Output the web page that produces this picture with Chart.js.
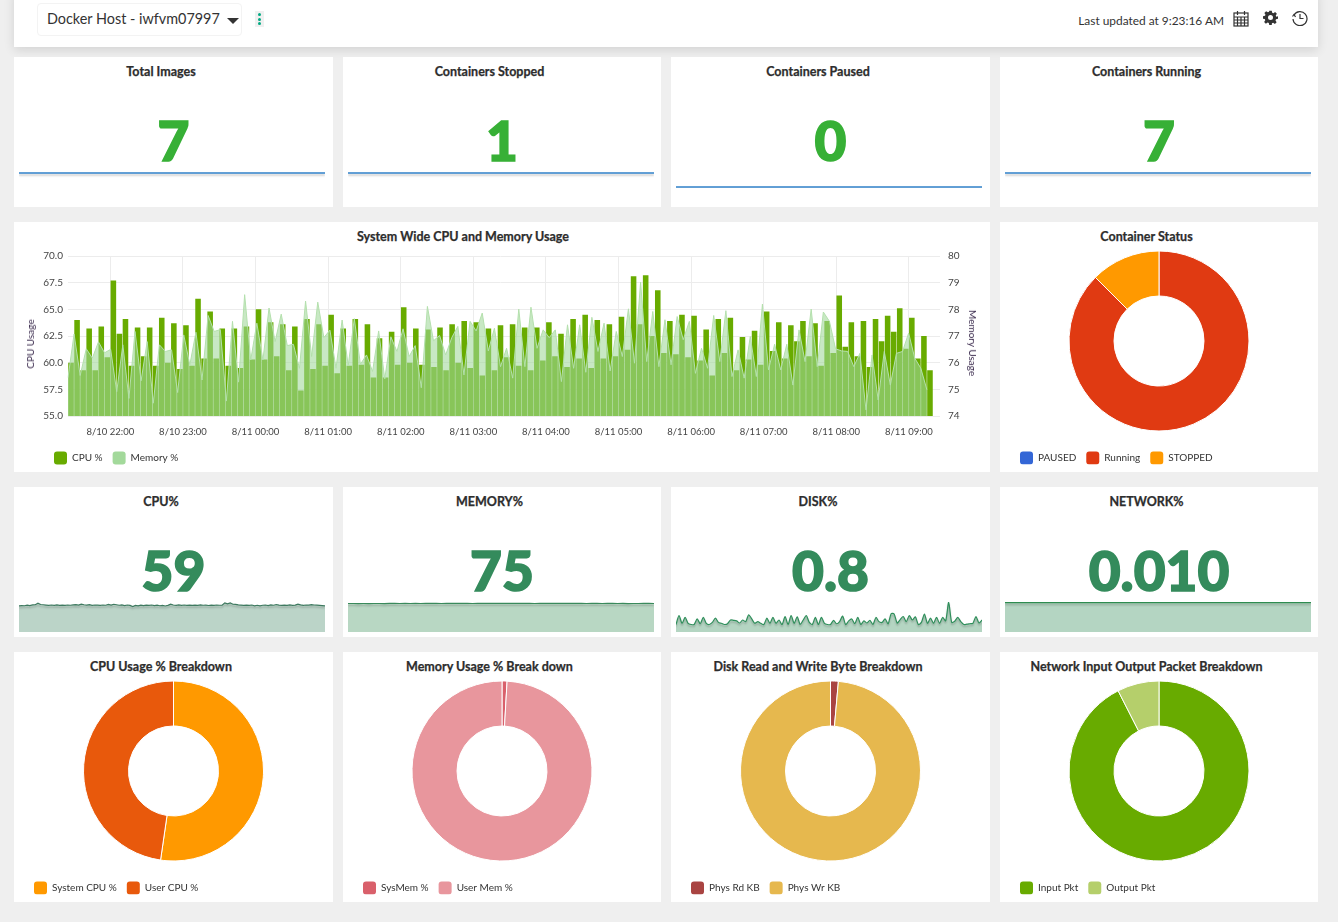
<!DOCTYPE html>
<html>
<head>
<meta charset="utf-8">
<title>Docker Host</title>
<script src="https://cdn.jsdelivr.net/npm/chart.js@4"></script>
<style>
  html, body { margin: 0; padding: 0; background: #efefef; width: 1338px; height: 922px; overflow: hidden; }
  body { position: relative; font-family: Lato, "Open Sans", sans-serif; color: #333; }
  .card { position: absolute; background: #fff; }
  .card canvas { position: absolute; }
  .title { position: absolute; top: 7px; left: 0; text-align: center; font-size: 12.5px; line-height: 15px; font-weight: 700; color: #2d2d2d; -webkit-text-stroke: .25px #2d2d2d; }
  .big { position: absolute; left: 0; width: 100%; text-align: center; font-family: "Lato Black", Lato, sans-serif; font-size: 55px; line-height: 57px; font-weight: 900; -webkit-text-stroke: 1.6px currentColor; }
  #header { position: absolute; left: 14px; top: -10px; width: 1304px; height: 57px; background: #fff; box-shadow: 0 3px 10px rgba(0,0,0,.12); }
  #host { position: absolute; left: 23px; top: 13px; width: 205px; height: 33px; border: 1px solid #f3f3f3; border-radius: 4px; box-sizing: border-box; font-size: 14.4px; line-height: 29px; padding-left: 9px; color: #333; }
  #caret { position: absolute; left: 189px; top: 14px; border-left: 6px solid transparent; border-right: 6px solid transparent; border-top: 6px solid #333; }
  #dots { position: absolute; left: 241px; top: 21px; width: 9px; height: 16px; background: #f0f0f0; }
  #dots i { position: absolute; left: 3px; width: 3px; height: 3px; border-radius: 2px; background: #01a982; }
  #updated { position: absolute; right: 94px; top: 23px; font-size: 11.9px; line-height: 15px; color: #333; }
  #header svg { position: absolute; top: 20px; }
  .axisname { position: absolute; font-size: 10px; line-height: 12px; color: #3a2a4d; white-space: nowrap; transform: translate(-50%, -50%) rotate(-90deg); }
</style>
</head>
<body>
<div id="header">
  <div id="host">Docker Host - iwfvm07997<span id="caret"></span></div>
  <div id="dots"><i style="top:2px"></i><i style="top:7px"></i><i style="top:11px"></i></div>
  <div id="updated">Last updated at 9:23:16 AM</div>
  <svg style="left:1219px" width="16" height="17" viewBox="0 0 16 17" fill="none" stroke="#333" stroke-width="1.2">
    <rect x="1" y="3" width="14" height="13"/><path d="M1 7h14M1 10h14M1 13h14M4.5 7v9M8 7v9M11.5 7v9M4.5 1v4M11.5 1v4"/>
  </svg>
  <svg style="left:1249px" width="15" height="15" viewBox="0 0 24 24" fill="#333">
    <path d="M10 1h4l.7 3.2 1.9.8 2.8-1.8 2.8 2.8-1.8 2.8.8 1.9L24 10v4l-3.2.7-.8 1.9 1.8 2.8-2.8 2.8-2.8-1.8-1.9.8L14 24h-4l-.7-3.2-1.9-.8-2.8 1.8-2.8-2.8 1.8-2.8-.8-1.9L0 14v-4l3.2-.7.8-1.9L2.2 4.600 5 1.800l2.800 1.800 1.900-.8zM12 8a4 4 0 1 0 0 8 4 4 0 0 0 0-8z" fill-rule="evenodd"/>
  </svg>
  <svg style="left:1278px" width="16" height="16" viewBox="0 0 16 16" fill="none" stroke="#333" stroke-width="1.2">
    <path d="M2 5a7 7 0 1 1-1 4M8 4v4.500h3.500"/><path d="M.5 6.500L2 4.500 3.500 7"/>
  </svg>
</div>
<script>
var hostTicks = ["8/10 22:00", "8/10 23:00", "8/11 00:00", "8/11 01:00", "8/11 02:00", "8/11 03:00", "8/11 04:00", "8/11 05:00", "8/11 06:00", "8/11 07:00", "8/11 08:00", "8/11 09:00"];

var cpuUsage = [
  60, 64, 59.3, 63.2, 59.3, 63.4, 60.5, 67.7, 62.7, 64.1,
  59.7, 63.3, 60.6, 63.3, 59.7, 64.2, 60, 63.7, 59.4, 63.5,
  59.7, 66, 60.4, 64.8, 60.4, 63.2, 59.7, 63.2, 59.5, 63.4,
  60.3, 65, 60.3, 63.8, 60.6, 63.6, 59.3, 63.4, 57.4, 64.1,
  59.4, 63.6, 59.7, 64.5, 59, 63.2, 59.7, 64.1, 59.8, 63.6,
  58.6, 62.3, 58.6, 62.9, 59.8, 65.2, 60, 63.2, 59.8, 63.1,
  59.6, 63.3, 59.3, 63.6, 60, 63.9, 59.5, 63.8, 58.8, 63.2,
  59.3, 63.5, 60.5, 63.6, 59.7, 63.3, 59.3, 63.3, 60.2, 63.8,
  60.6, 62.7, 59.6, 64.1, 60.4, 64.5, 59.5, 64, 60.4, 63.6,
  60.6, 64.3, 61.2, 68.1, 63.6, 68.2, 62.5, 66.8, 60.9, 63.9,
  60.8, 64.5, 60.5, 64.4, 60.2, 63.1, 58.8, 64.1, 60.9, 64.2,
  59.3, 62.4, 60.3, 63, 59.8, 64.8, 61.1, 63.8, 60.4, 63.5,
  62, 63.9, 60.6, 63.7, 59.7, 63.9, 60.9, 66.3, 61.5, 63.8,
  60.6, 63.9, 59.6, 64.1, 62, 64.4, 62.9, 65.1, 61.3, 64.2,
  60.4, 62.5, 59.3
];

var memoryUsage = [
  75.44, 77.07, 75.52, 76.52, 76.17, 76.78, 76.37, 76.5, 74.91, 76.67,
  74.66, 77.17, 75.32, 76.79, 74.48, 76.67, 76.42, 76.48, 74.88, 77.04,
  75.92, 77.14, 75.35, 77.77, 77.17, 77.24, 74.56, 77.55, 75.27, 78.55,
  76.1, 77.48, 76.1, 78.05, 76.79, 77.82, 76.64, 76.69, 75.79, 78.31,
  76.23, 78.27, 76.94, 77.22, 75.79, 77.6, 75.89, 77.65, 75.94, 76.29,
  75.67, 77.19, 75.39, 76.97, 76.42, 77.27, 76.23, 76.64, 75.06, 78.11,
  76.82, 77.02, 76.29, 76.94, 77.36, 75.54, 77.55, 77.19, 77.86, 76.44,
  77.29, 75.85, 76.54, 75.42, 78.01, 75.85, 78.08, 76.54, 77.23, 76.94,
  77.23, 75.29, 77.42, 75.79, 77.42, 75.64, 77.7, 76.42, 77.48, 75.69,
  77.17, 76.23, 78.02, 75.98, 79.02, 76.04, 77.92, 75.85, 77.61, 75.92,
  77.73, 76.86, 77.55, 75.6, 76.54, 75.79, 77.77, 76.04, 77.95, 75.48,
  76.48, 75.42, 76.98, 75.48, 78.2, 75.73, 76.69, 75.73, 76.69, 75.16,
  77.23, 76.04, 78.01, 75.85, 77.9, 77.55, 76.52, 76.44, 76.42, 75.85,
  76.35, 74.23, 76.29, 74.6, 76.42, 75.16, 76.35, 76.42, 77.11, 76.17,
  75.79, 74.98
];

var cpuTicks = [55, 57.5, 60, 62.5, 65, 67.5, 70];
var memoryTicks = [74, 75, 76, 77, 78, 79, 80];

var totalImagesTrend = [7, 7, 7, 7, 7, 7, 7, 7];
var stoppedTrend = [1, 1, 1, 1, 1, 1, 1, 1];
var pausedTrend = [0, 0, 0, 0, 0, 0, 0, 0];
var runningTrend = [7, 7, 7, 7, 7, 7, 7, 7];

var cpuTrend = [
  57.5, 58, 57.8, 59, 58.2, 59.5, 60, 63.4, 60.5, 60, 59.3, 58.5, 59.4, 58.7, 59.6, 58.6, 59.3, 58.4, 59.4, 58.9,
  59.6, 60.2, 59, 61.2, 60, 59.2, 60.1, 58.7, 59.4, 59, 58.4, 59.4, 58.9, 60.6, 59.3, 61, 60, 58.9, 59.6, 58.1,
  59.4, 58.4, 56, 58.4, 57.5, 59, 58.2, 59.2, 58.6, 59.4, 58.2, 58.9, 57.8, 58.6, 57.2, 58.5, 61.2, 59.4, 58.8, 59.6,
  58.7, 59.4, 58.6, 59.2, 58.4, 59.3, 58.7, 59.5, 58.8, 59.1, 58.3, 59.2, 58.5, 59.4, 58.8, 59.2, 64.2, 62, 64.2, 61,
  60.6, 59.6, 59.2, 58.6, 59.2, 58.5, 59.4, 57.4, 58.8, 57.5, 58.8, 59.4, 58.2, 59.5, 58.9, 60.5, 59.2, 58.4, 59, 58.6,
  59.6, 58.8, 59.3, 61.2, 59.6, 58.8, 59.4, 59, 60.2, 59.4, 59, 58.6, 58.2, 57.6
];
var memoryTrend = [
  75, 75.1, 74.9, 75, 74.8, 75, 75.1, 74.9, 75.2, 75.4, 75, 75.3, 75.1, 75.4, 75, 75.5, 75.2, 75.5, 75.1, 75.4,
  75.2, 75.5, 75.3, 75.5, 75, 75.4, 75.2, 75.5, 75.3, 75.6, 75.2, 75.6, 75.4, 75.5, 75.2, 75.4, 75.1, 75.3, 75.5, 75.2,
  75.5, 75.3, 75.6, 75.2, 75.5, 75.3, 75.1, 75.3, 75.4, 75, 75.2, 75.5, 75.1, 75.2, 74.9, 75, 75.1, 75.3, 75.2, 75
];
var diskTrend = [
  0.5, 1.1, 0.58, 0.97, 0.58, 0.5, 0.5, 0.87, 0.55, 0.97, 0.58, 0.5, 0.64, 0.92, 0.64, 0.58, 0.5, 0.55, 0.8, 0.78,
  0.74, 0.6, 0.8, 0.69, 1.15, 0.87, 0.58, 0.69, 0.58, 0.5, 0.92, 0.58, 0.97, 0.58, 0.8, 0.5, 1.03, 0.5, 1.1, 0.58,
  1.01, 0.5, 0.8, 1.1, 0.64, 0.5, 0.97, 0.5, 0.97, 0.58, 0.5, 0.5, 0.78, 0.55, 0.69, 1.06, 0.5, 0.74, 0.87, 0.55,
  0.97, 0.5, 0.74, 0.6, 0.78, 0.5, 0.97, 0.69, 0.64, 0.87, 0.55, 1.22, 1.2, 0.6, 0.83, 1.03, 0.69, 1.1, 0.8, 1.01,
  0.5, 0.64, 1.2, 0.58, 0.92, 0.58, 0.97, 0.58, 0.97, 0.74, 1.98, 0.64, 0.72, 0.97, 0.69, 0.5, 0.52, 0.55, 0.58, 1.03, 0.6, 0.8
];
var networkTrend = [0.01, 0.01, 0.01, 0.01, 0.01, 0.01, 0.01, 0.01];

var statusLabels = ["PAUSED", "Running", "STOPPED"];
var statusValues = [0, 7, 1];
var cpuSplitLabels = ["System CPU %", "User CPU %"];
var cpuSplitValues = [52.3, 47.7];
var memorySplitLabels = ["SysMem %", "User Mem %"];
var memorySplitValues = [0.9, 99.1];
var diskSplitLabels = ["Phys Rd KB", "Phys Wr KB"];
var diskSplitValues = [1.4, 98.6];
var networkSplitLabels = ["Input Pkt", "Output Pkt"];
var networkSplitValues = [92.5, 7.5];

var columnLeft = [14, 343, 671, 1000];
var columnWidth = [319, 318, 319, 318];
var chartFont = "Lato, 'Open Sans', sans-serif";

Chart.defaults.font.family = chartFont;
Chart.defaults.font.size = 10;
Chart.defaults.color = "#444";
Chart.defaults.animation = false;

// the legend sits lower and further in than chart.js would place it
var legendPlacer = {
  id: "legendPlacer",
  afterLayout: function(chart) {
    var place = chart.options.plugins.legendPlacer;
    if (!place || !chart.legend) return;
    var pad = chart.legend.options.labels.padding;
    chart.legend.left = place.left - pad;
    chart.legend.top = place.centerY - 6.5 - pad;
  }
};

var lineShadow = {
  id: "lineShadow",
  beforeDatasetDraw: function(chart) {
    chart.ctx.shadowColor = "rgba(0,0,0,.22)";
    chart.ctx.shadowOffsetY = 2;
    chart.ctx.shadowBlur = 2;
  },
  afterDatasetDraw: function(chart) {
    chart.ctx.shadowColor = "transparent";
    chart.ctx.shadowOffsetY = 0;
    chart.ctx.shadowBlur = 0;
  }
};

function legendLabels(chart) {
  var base = chart.config.type === "doughnut" ?
    Chart.overrides.doughnut.plugins.legend.labels.generateLabels(chart) :
    Chart.defaults.plugins.legend.labels.generateLabels(chart);
  return base.map(function(item) {
    item.borderRadius = 3;
    item.lineWidth = 0;
    if (item.datasetIndex === 1) item.fillStyle = "#a3d99b";
    return item;
  }).sort(function(a, b) {
    return (a.datasetIndex || 0) - (b.datasetIndex || 0);
  });
}

function addCard(left, top, width, height, title, titleWidth) {
  var card = document.createElement("div");
  card.className = "card";
  card.style.cssText = "left:" + left + "px;top:" + top + "px;width:" + width + "px;height:" + height + "px";
  var head = document.createElement("div");
  head.className = "title";
  head.style.width = (titleWidth || width - 25) + "px";
  head.textContent = title;
  card.appendChild(head);
  document.body.appendChild(card);
  return card;
}

function addCanvas(card, left, top, width, height) {
  var canvas = document.createElement("canvas");
  canvas.width = width;
  canvas.height = height;
  canvas.style.cssText = "left:" + left + "px;top:" + top + "px;width:" + width + "px;height:" + height + "px";
  card.appendChild(canvas);
  return canvas;
}

function addTrendCard(column, top, title, value, valueColor, trend, axis, line) {
  var card = addCard(columnLeft[column], top, columnWidth[column], 150, title);
  var big = document.createElement("div");
  big.className = "big";
  big.style.top = "55px";
  big.style.color = valueColor;
  big.textContent = value;
  card.appendChild(big);
  new Chart(addCanvas(card, 5, line.canvasTop, 306, 30), {
    type: "line",
    data: {
      labels: trend.map(function(v, i) { return i; }),
      datasets: [{
        data: trend,
        borderColor: line.color,
        borderWidth: line.width || 1.2,
        backgroundColor: line.fill,
        fill: line.fill ? "origin" : false,
        pointRadius: 0,
        tension: line.tension || 0,
        clip: false
      }]
    },
    options: {
      responsive: false,
      layout: { padding: 0 },
      plugins: { legend: { display: false }, tooltip: { enabled: false } },
      scales: {
        x: { display: false },
        y: { display: false, min: axis[0], max: axis[1] }
      }
    },
    plugins: [lineShadow]
  });
}

function addDonutCard(column, top, title, labels, values, colors) {
  var card = addCard(columnLeft[column], top, columnWidth[column], 250, title);
  new Chart(addCanvas(card, 0, 0, columnWidth[column], 250), {
    type: "doughnut",
    data: {
      labels: labels,
      datasets: [{ data: values, backgroundColor: colors, borderColor: "#fff", borderWidth: 1 }]
    },
    options: {
      responsive: false,
      cutout: "50%",
      layout: { padding: { top: 28.5, bottom: 7.5 } },
      plugins: {
        tooltip: { enabled: false },
        legend: {
          position: "bottom",
          align: "start",
          labels: { boxWidth: 13, boxHeight: 13, padding: 10, color: "#333", generateLabels: legendLabels }
        },
        legendPlacer: { left: 20, centerY: 236 }
      }
    },
    plugins: [legendPlacer]
  });
}

var blueLine = { canvasTop: 101, color: "#2f80c8", width: 1.6 };
var valueGreen = "#37b036";
var trendGreen = "#348b5c";

addTrendCard(0, 57, "Total Images", "7", valueGreen, totalImagesTrend, [-0.5, 14.5], blueLine);
addTrendCard(1, 57, "Containers Stopped", "1", valueGreen, stoppedTrend, [-0.07, 2.07], blueLine);
addTrendCard(2, 57, "Containers Paused", "0", valueGreen, pausedTrend, [-0.5, 14.5], blueLine);
addTrendCard(3, 57, "Containers Running", "7", valueGreen, runningTrend, [-0.5, 14.5], blueLine);

addTrendCard(0, 487, "CPU%", "59", trendGreen, cpuTrend, [0, 66], { canvasTop: 115, color: "#3f7a60", fill: "rgba(50,125,88,.33)" });
addTrendCard(1, 487, "MEMORY%", "75", trendGreen, memoryTrend, [0, 79], { canvasTop: 115, color: "#3a8a5c", fill: "rgba(46,139,80,.34)" });
addTrendCard(2, 487, "DISK%", "0.8", trendGreen, diskTrend, [0, 2], { canvasTop: 115, color: "#2f8f5b", fill: "rgba(46,139,87,.36)", tension: 0.25 });
addTrendCard(3, 487, "NETWORK%", "0.010", trendGreen, networkTrend, [0, 0.0102], { canvasTop: 115, color: "#2e8b50", fill: "rgba(46,139,87,.36)" });

addDonutCard(3, 222, "Container Status", statusLabels, statusValues, ["#3366d6", "#e03a12", "#ff9900"]);
addDonutCard(0, 652, "CPU Usage % Breakdown", cpuSplitLabels, cpuSplitValues, ["#ff9900", "#e8590c"]);
addDonutCard(1, 652, "Memory Usage % Break down", memorySplitLabels, memorySplitValues, ["#d9606b", "#e8969d"]);
addDonutCard(2, 652, "Disk Read and Write Byte Breakdown", diskSplitLabels, diskSplitValues, ["#a94442", "#e6b84e"]);
addDonutCard(3, 652, "Network Input Output Packet Breakdown", networkSplitLabels, networkSplitValues, ["#68ab00", "#b5cf6b"]);

// one slot per five minute sample, the first one at 21:25
function buildTimeSlots() {
  var slots = [];
  for (var i = 0; i < cpuUsage.length; i++) {
    var hour = Math.floor((i - 7) / 12);
    slots.push((i - 7) % 12 === 0 ? hostTicks[hour] : "");
  }
  return slots;
}

var usageCard = addCard(14, 222, 976, 250, "System Wide CPU and Memory Usage", 898);
var timeSlots = buildTimeSlots();

new Chart(addCanvas(usageCard, 0, 0, 976, 250), {
  type: "bar",
  data: {
    labels: timeSlots,
    datasets: [{
      label: "CPU %",
      data: cpuUsage,
      yAxisID: "y",
      xAxisID: "x",
      backgroundColor: "#68ab00",
      grouped: false,
      barPercentage: 0.92,
      categoryPercentage: 1,
      order: 2
    }, {
      type: "line",
      label: "Memory %",
      data: memoryUsage,
      yAxisID: "y1",
      xAxisID: "x2",
      borderColor: "#b4e0ad",
      borderWidth: 1,
      backgroundColor: "rgba(160,216,154,.58)",
      fill: "origin",
      pointRadius: 0,
      tension: 0,
      order: 1
    }]
  },
  options: {
    responsive: false,
    layout: { padding: { top: 34 } },
    plugins: {
      tooltip: { enabled: false },
      legend: {
        position: "bottom",
        align: "start",
        labels: { boxWidth: 13, boxHeight: 13, padding: 10, color: "#333", generateLabels: legendLabels }
      },
      legendPlacer: { left: 40, centerY: 236 }
    },
    scales: {
      x: {
        afterFit: function(scale) { scale.height = 23; },
        border: { display: false },
        grid: {
          offset: true,
          drawTicks: false,
          color: function(ctx) { return ctx.tick && ctx.tick.label ? "#ececec" : "transparent"; }
        },
        ticks: { autoSkip: false, maxRotation: 0, padding: 10, labelOffset: -3, color: "#444", font: { size: 9.5 } }
      },
      x2: {
        display: false,
        offset: false,
        labels: timeSlots
      },
      y: {
        position: "left",
        min: cpuTicks[0],
        max: cpuTicks[cpuTicks.length - 1],
        afterFit: function(scale) { scale.width = 54; },
        afterBuildTicks: function(scale) { scale.ticks = cpuTicks.map(function(v) { return { value: v }; }); },
        border: { display: false },
        grid: { drawTicks: false, color: "#ececec" },
        ticks: { padding: 5, color: "#444", callback: function(v) { return v.toFixed(1); } }
      },
      y1: {
        position: "right",
        min: memoryTicks[0],
        max: memoryTicks[memoryTicks.length - 1],
        afterFit: function(scale) { scale.width = 57; },
        afterBuildTicks: function(scale) { scale.ticks = memoryTicks.map(function(v) { return { value: v }; }); },
        border: { display: false },
        grid: { drawOnChartArea: false, tickLength: 7, tickColor: "#ececec" },
        ticks: { padding: 8, color: "#444" }
      }
    }
  },
  plugins: [legendPlacer]
});

function addAxisName(text, x, y, turn) {
  var name = document.createElement("div");
  name.className = "axisname";
  name.style.left = x + "px";
  name.style.top = y + "px";
  name.style.transform = "translate(-50%, -50%) rotate(" + turn + "deg)";
  name.textContent = text;
  usageCard.appendChild(name);
}
addAxisName("CPU Usage", 16, 122, -90);
addAxisName("Memory Usage", 959, 121, 90);
</script>
</body>
</html>
